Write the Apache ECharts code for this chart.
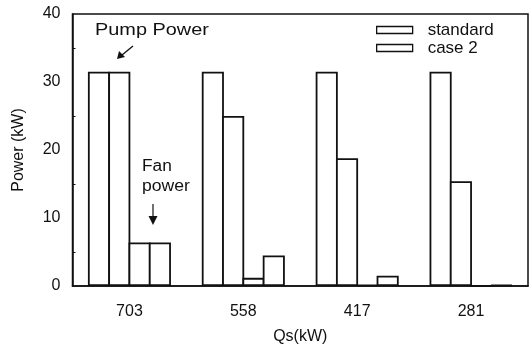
<!DOCTYPE html>
<html>
<head>
<meta charset="utf-8">
<script src="https://cdn.jsdelivr.net/npm/echarts@6/dist/echarts.min.js"></script>
<style>
html,body{margin:0;padding:0;background:#fff;}
#chart{width:529px;height:347px;}
</style>
</head>
<body>
<div id="chart"></div>
<script>
const categories = ['703', '558', '417', '281'];
const pumpStandard = [31.5, 31.5, 31.5, 31.5];
const pumpCase2 = [31.5, 25.0, 18.8, 15.4];
const fanStandard = [6.4, 1.2, 0.2, 0];
const fanCase2 = [6.4, 4.5, 1.5, 0.15];
const yTicks = [0, 10, 20, 30, 40];

const FONT = 'Liberation Sans';
const ink = '#111';
const barStyle = { color: '#fff', borderColor: ink, borderWidth: 1.8 };

function bar(name, data) {
  return {
    name: name, type: 'bar', data: data,
    barWidth: 22.1, barGap: '-8.1%',
    itemStyle: barStyle, emphasis: { disabled: true }, animation: false
  };
}

const chart = echarts.init(document.getElementById('chart'), null, { renderer: 'canvas' });
chart.setOption({
  animation: false,
  backgroundColor: '#fff',
  textStyle: { fontFamily: FONT, color: ink },
  grid: { left: 72.5, right: 1, top: 14, bottom: 61, outerBoundsMode: 'none', containLabel: false,
          show: true, borderColor: ink, borderWidth: 1.5, backgroundColor: 'transparent' },
  legend: {
    data: ['standard', 'case 2'],
    orient: 'vertical', left: 376, top: 21, padding: 0,
    itemWidth: 36, itemHeight: 7, itemGap: 0,
    icon: 'rect',
    itemStyle: { color: '#fff', borderColor: ink, borderWidth: 1.3 },
    textStyle: { fontFamily: FONT, fontSize: 17, color: ink, lineHeight: 15, padding: [3, 0, 0, 10] },
    selectedMode: false
  },
  xAxis: {
    type: 'category', data: categories,
    name: 'Qs(kW)', nameLocation: 'middle', nameGap: 43,
    nameTextStyle: { fontFamily: FONT, fontSize: 16, color: ink },
    axisLine: { lineStyle: { color: ink, width: 1.5 } },
    axisTick: { inside: true, length: 3, lineStyle: { color: ink, width: 1 } },
    axisLabel: { margin: 18, fontSize: 16, color: ink, fontFamily: FONT },
    splitLine: { show: false }
  },
  yAxis: {
    type: 'value', min: yTicks[0], max: yTicks[yTicks.length - 1], interval: 10,
    name: 'Power (kW)', nameLocation: 'middle', nameGap: 46, nameRotate: 90,
    nameTextStyle: { fontFamily: FONT, fontSize: 16, color: ink },
    axisLine: { show: true, lineStyle: { color: ink, width: 1.5 } },
    axisTick: { inside: true, length: 4, lineStyle: { color: ink, width: 1 } },
    minorTick: { show: true, splitNumber: 2, length: 3, lineStyle: { color: ink, width: 1 } },
    axisLabel: { margin: 12, fontSize: 16, color: ink, fontFamily: FONT },
    splitLine: { show: false }
  },
  series: [
    bar('standard', pumpStandard),
    bar('case 2', pumpCase2),
    bar('standard', fanStandard),
    bar('case 2', fanCase2)
  ],
  graphic: [
    { type: 'text', x: 95, y: 22, scaleX: 1.17, style: { text: 'Pump Power', font: '17px "Liberation Sans"', fill: ink } },
    { type: 'line', shape: { x1: 133, y1: 46, x2: 122, y2: 55 }, style: { stroke: ink, lineWidth: 1.3 } },
    { type: 'polygon', shape: { points: [[117, 59], [119, 51], [125, 57]] }, style: { fill: ink } },
    { type: 'text', x: 142, y: 159, scaleX: 1.08, style: { text: 'Fan', font: '16px "Liberation Sans"', fill: ink } },
    { type: 'text', x: 142, y: 179, scaleX: 1.1, style: { text: 'power', font: '16px "Liberation Sans"', fill: ink } },
    { type: 'line', shape: { x1: 153, y1: 204, x2: 153, y2: 218 }, style: { stroke: ink, lineWidth: 1.2 } },
    { type: 'polygon', shape: { points: [[148.5, 216], [157.5, 216], [153, 225]] }, style: { fill: ink } }
  ]
});
</script>
</body>
</html>
